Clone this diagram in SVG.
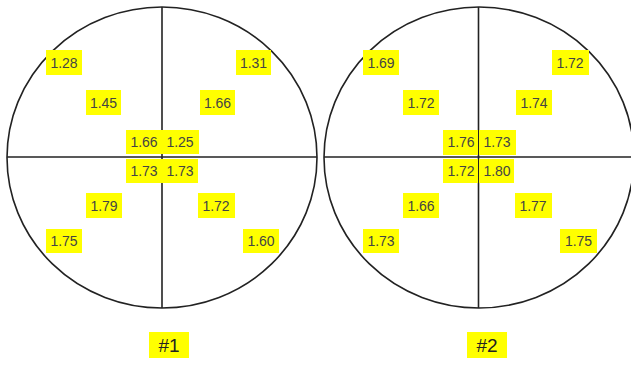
<svg xmlns="http://www.w3.org/2000/svg" width="631" height="369" viewBox="0 0 631 369">
<style>
.ln{fill:none;stroke:#222;stroke-width:1.6}
.bx{fill:#ffff00}
.t{font-family:"Liberation Sans",Arial,sans-serif;font-size:14px;fill:#444;text-anchor:middle}
.h{font-family:"Liberation Sans",Arial,sans-serif;font-size:19px;fill:#222;text-anchor:middle}
</style>
<rect width="631" height="369" fill="#fff"/>
<g id="connectors">
<ellipse class="ln" cx="162" cy="157.5" rx="155" ry="150.5"/>
<line class="ln" x1="162" y1="7" x2="162" y2="308"/>
<line class="ln" x1="7" y1="157" x2="317" y2="157"/>
<ellipse class="ln" cx="479" cy="157.5" rx="155" ry="150.5"/>
<line class="ln" x1="478.5" y1="7" x2="478.5" y2="308"/>
<line class="ln" x1="324" y1="157" x2="631" y2="157"/>
</g>
<g id="c1">
<g id="c1-a"><rect class="bx" x="46" y="50" width="36" height="25"/><text class="t" x="64" y="68">1.28</text></g>
<g id="c1-b"><rect class="bx" x="236" y="50" width="35" height="25"/><text class="t" x="253.5" y="68">1.31</text></g>
<g id="c1-c"><rect class="bx" x="86" y="90" width="35" height="25"/><text class="t" x="103.5" y="108">1.45</text></g>
<g id="c1-d"><rect class="bx" x="200" y="90" width="35" height="25"/><text class="t" x="217.5" y="108">1.66</text></g>
<g id="c1-e"><rect class="bx" x="126" y="130" width="36" height="24"/><text class="t" x="144" y="147">1.66</text></g>
<g id="c1-f"><rect class="bx" x="162" y="130" width="37" height="24"/><text class="t" x="180" y="147">1.25</text></g>
<g id="c1-g"><rect class="bx" x="126" y="159" width="36" height="24"/><text class="t" x="144" y="176">1.73</text></g>
<g id="c1-h"><rect class="bx" x="162" y="159" width="36" height="24"/><text class="t" x="180" y="176">1.73</text></g>
<g id="c1-i"><rect class="bx" x="86" y="193" width="36" height="25"/><text class="t" x="104" y="211">1.79</text></g>
<g id="c1-j"><rect class="bx" x="198" y="193" width="37" height="25"/><text class="t" x="216" y="211">1.72</text></g>
<g id="c1-k"><rect class="bx" x="46" y="229" width="36" height="24"/><text class="t" x="64" y="246">1.75</text></g>
<g id="c1-l"><rect class="bx" x="243" y="229" width="36" height="24"/><text class="t" x="261" y="246">1.60</text></g>
</g>
<g id="c2">
<g id="c2-a"><rect class="bx" x="363" y="50" width="36" height="25"/><text class="t" x="381" y="68">1.69</text></g>
<g id="c2-b"><rect class="bx" x="552" y="50" width="37" height="25"/><text class="t" x="570" y="68">1.72</text></g>
<g id="c2-c"><rect class="bx" x="403" y="90" width="36" height="25"/><text class="t" x="421" y="108">1.72</text></g>
<g id="c2-d"><rect class="bx" x="516" y="90" width="36" height="25"/><text class="t" x="534" y="108">1.74</text></g>
<g id="c2-e"><rect class="bx" x="443" y="130" width="35" height="25"/><text class="t" x="461" y="147">1.76</text></g>
<g id="c2-f"><rect class="bx" x="479" y="130" width="37" height="25"/><text class="t" x="497" y="147">1.73</text></g>
<g id="c2-g"><rect class="bx" x="443" y="159" width="35" height="24"/><text class="t" x="461" y="176">1.72</text></g>
<g id="c2-h"><rect class="bx" x="479" y="159" width="35" height="24"/><text class="t" x="497" y="176">1.80</text></g>
<g id="c2-i"><rect class="bx" x="403" y="193" width="36" height="25"/><text class="t" x="421" y="211">1.66</text></g>
<g id="c2-j"><rect class="bx" x="515" y="193" width="37" height="25"/><text class="t" x="533" y="211">1.77</text></g>
<g id="c2-k"><rect class="bx" x="363" y="229" width="36" height="24"/><text class="t" x="381" y="246">1.73</text></g>
<g id="c2-l"><rect class="bx" x="560" y="229" width="37" height="24"/><text class="t" x="578.5" y="246">1.75</text></g>
</g>
<g id="label1"><rect class="bx" x="149" y="332" width="40" height="26"/><text class="h" x="169" y="352">#1</text></g>
<g id="label2"><rect class="bx" x="467" y="332" width="40" height="26"/><text class="h" x="487" y="352">#2</text></g>
</svg>
